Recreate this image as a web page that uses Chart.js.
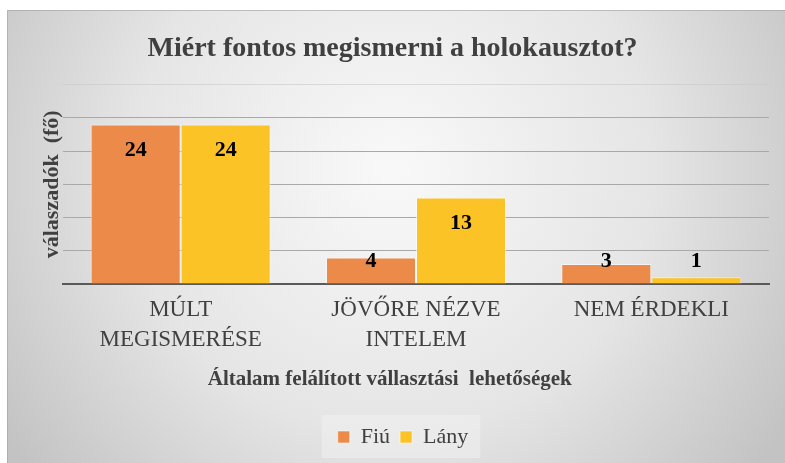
<!DOCTYPE html>
<html>
<head>
<meta charset="utf-8">
<script src="https://cdn.jsdelivr.net/npm/chart.js@4/dist/chart.umd.min.js"></script>
<style>
  html, body { margin: 0; padding: 0; background: #fff; }
  #wrap { width: 785px; height: 463px; }
</style>
</head>
<body>
<div id="wrap"><canvas id="chart" width="785" height="463"></canvas></div>
<script>
var categories = [['MÚLT', 'MEGISMERÉSE'], ['JÖVŐRE NÉZVE', 'INTELEM'], 'NEM ÉRDEKLI'];
var fiu = [24, 4, 3];
var lany = [24, 13, 1];
var seriesNames = ['Fiú', 'Lány'];

var serif = "'Liberation Serif', 'Times New Roman', serif";
var textGray = '#404040';

// gray panel with soft radial shading, plus a lighter box behind the legend
var panelBg = {
  id: 'panelBg',
  beforeDraw: function (chart) {
    var ctx = chart.ctx;
    var w = chart.width, h = chart.height;
    ctx.save();
    ctx.fillStyle = '#ffffff';
    ctx.fillRect(0, 0, w, h);
    var g = ctx.createRadialGradient(392, 170, 10, 392, 170, 470);
    g.addColorStop(0, '#f8f8f8');
    g.addColorStop(0.55, '#e5e5e5');
    g.addColorStop(1, '#c3c3c3');
    ctx.fillStyle = g;
    ctx.fillRect(7, 10, w - 7, h - 10);
    ctx.strokeStyle = 'rgba(160,160,160,0.6)';
    ctx.lineWidth = 1;
    ctx.beginPath();
    ctx.moveTo(7.5, h);
    ctx.lineTo(7.5, 10.5);
    ctx.lineTo(w, 10.5);
    ctx.stroke();

    var boxes = chart.legend && chart.legend.legendHitBoxes;
    if (boxes && boxes.length) {
      var first = boxes[0], last = boxes[boxes.length - 1];
      var x0 = first.left - 16, x1 = last.left + last.width + 12;
      var y0 = first.top - 11, y1 = first.top + first.height + 10;
      ctx.fillStyle = 'rgba(240,240,240,0.55)';
      ctx.fillRect(x0, y0, x1 - x0, y1 - y0);
    }
    ctx.restore();
  }
};

// value labels near the top of each bar, kept above the axis for short bars
var barValues = {
  id: 'barValues',
  afterDatasetsDraw: function (chart) {
    var ctx = chart.ctx;
    ctx.save();
    ctx.font = 'bold 22px ' + serif;
    ctx.fillStyle = '#000';
    ctx.textAlign = 'center';
    ctx.textBaseline = 'middle';
    chart.data.datasets.forEach(function (ds, i) {
      chart.getDatasetMeta(i).data.forEach(function (bar, j) {
        var y = Math.min(bar.y + 26, bar.base - 22);
        ctx.fillText(String(ds.data[j]), bar.x, y);
      });
    });
    ctx.restore();
  }
};

new Chart(document.getElementById('chart'), {
  type: 'bar',
  data: {
    labels: categories,
    datasets: [
      {
        label: seriesNames[0],
        data: fiu,
        backgroundColor: '#ec8a49',
        borderColor: 'rgba(255,255,255,0.55)',
        borderWidth: 1
      },
      {
        label: seriesNames[1],
        data: lany,
        backgroundColor: '#fbc325',
        borderColor: 'rgba(255,255,255,0.55)',
        borderWidth: 1
      }
    ]
  },
  options: {
    responsive: false,
    animation: false,
    events: [],
    categoryPercentage: 0.765,
    barPercentage: 1,
    layout: { padding: { left: 37, right: 16, top: 0, bottom: 5 } },
    plugins: {
      title: {
        display: true,
        // trailing spaces keep the heading centred on the panel rather than the plot
        text: 'Miért fontos megismerni a holokausztot?   ',
        color: textGray,
        font: { family: serif, size: 28, weight: 'bold' },
        padding: { top: 32, bottom: 19 }
      },
      legend: {
        position: 'bottom',
        labels: {
          color: textGray,
          font: { family: serif, size: 22 },
          boxWidth: 12,
          boxHeight: 12,
          padding: 10
        }
      },
      tooltip: { enabled: false }
    },
    scales: {
      x: {
        grid: { display: false },
        border: { color: '#595959', width: 2 },
        ticks: {
          color: textGray,
          font: { family: serif, size: 23, lineHeight: 1.3 },
          padding: 3,
          maxRotation: 0
        },
        title: {
          display: true,
          // trailing spaces pull the centred title left, under the middle of the panel
          text: 'Általam felálított vállasztási  lehetőségek          ',
          color: textGray,
          font: { family: serif, size: 21, weight: 'bold' },
          padding: { top: 9, bottom: 24 }
        }
      },
      y: {
        min: 0,
        max: 30,
        ticks: { display: false, stepSize: 5 },
        border: { display: false },
        grid: {
          drawTicks: false,
          color: function (c) {
            return c.tick && c.tick.value === 30 ? 'rgba(200,200,200,0.6)' : '#a9a9a9';
          }
        },
        title: {
          display: true,
          text: 'válaszadók  (fő)',
          color: textGray,
          font: { family: serif, size: 22, weight: 'bold', lineHeight: 1 },
          padding: { top: 4, bottom: 0 }
        }
      }
    }
  },
  plugins: [panelBg, barValues]
});
</script>
</body>
</html>
